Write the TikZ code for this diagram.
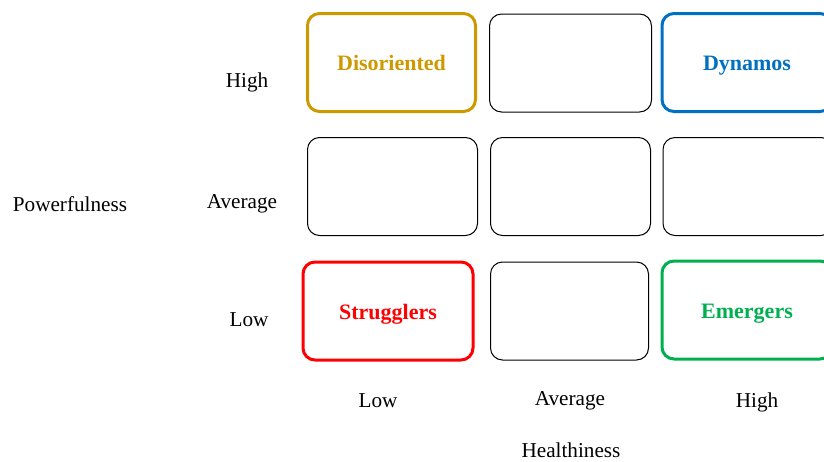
\documentclass[tikz,border=0pt]{standalone}
\usepackage{fontspec}
\setmainfont{Liberation Serif}
\definecolor{gold}{RGB}{204,153,0}
\definecolor{dynblue}{RGB}{0,112,192}
\definecolor{emgreen}{RGB}{0,176,80}
\tikzset{
  cell/.style={draw, rounded corners=6pt, line width=0.5pt, minimum height=49pt},
  tag/.style={cell, line width=1.5pt, font=\fontsize{11}{13}\selectfont\bfseries, text height=8pt, text depth=0pt},
  axis/.style={font=\fontsize{10.6}{12}\selectfont}
}
\begin{document}
\begin{tikzpicture}[x=0.5pt, y=-0.5pt]
\useasboundingbox (0,0) rectangle (824,461);
\node[tag, gold, minimum width=84pt] (dis) at (391.5,62.5){Disoriented};
\node[cell, minimum width=81pt] (hm) at (570.5,63){};
\node[tag, dynblue, minimum width=85pt] (dyn) at (747,62.5){Dynamos};
\node[cell, minimum width=85pt] (al) at (392.5,186.5){};
\node[cell, minimum width=80pt] (am) at (570.5,186.5){};
\node[cell, minimum width=85pt] (ah) at (748,186.5){};
\node[tag, red, minimum width=85pt] (str) at (388,311){Strugglers};
\node[cell, minimum width=79pt] (lm) at (569.5,311){};
\node[tag, emgreen, minimum width=85pt] (emg) at (747,310){Emergers};
\node[axis] (phigh) at (247,82.5){High};
\node[axis] (pavg) at (242,203.5){Average};
\node[axis] (plow) at (249,320){Low};
\node[axis] (pow) at (70,204.5){Powerfulness};
\node[axis] (hlow) at (378,401){Low};
\node[axis] (havg) at (570,400.5){Average};
\node[axis] (hhigh) at (757,402.5){High};
\node[axis] (hea) at (571,450.5){Healthiness};
\end{tikzpicture}
\end{document}
